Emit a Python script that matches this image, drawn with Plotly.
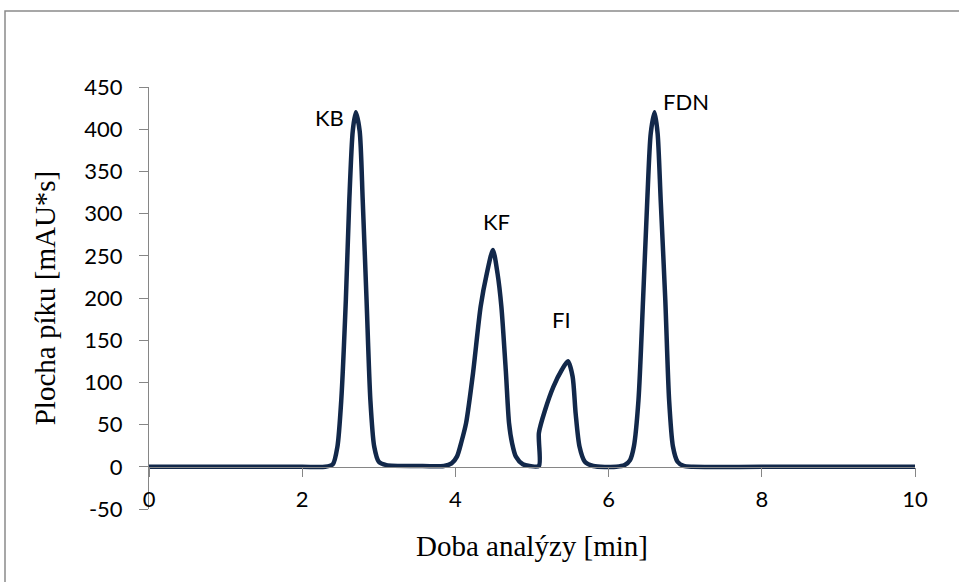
import plotly.graph_objects as go

# ---- data ----
time_min = [0, 1, 2, 2.30, 2.40, 2.46, 2.51, 2.57, 2.615, 2.66, 2.70, 2.75, 2.79, 2.84, 2.89, 2.94, 3.00, 3.10,
            3.5, 3.85, 3.95, 4.02, 4.08, 4.14, 4.23, 4.33, 4.41, 4.49, 4.55, 4.60, 4.66, 4.70, 4.74, 4.79, 4.88, 4.97,
            5.09, 5.09, 5.17, 5.28, 5.39, 5.47, 5.53, 5.57, 5.62, 5.69, 5.80,
            6.10, 6.21, 6.28, 6.33, 6.39, 6.45, 6.505, 6.55, 6.60, 6.64, 6.68, 6.74, 6.79, 6.84, 6.90, 6.98, 7.1, 8, 10]
signal = [0, 0, 0, 0, 3, 24, 79, 198, 316, 398, 420, 398, 316, 198, 79, 24, 6, 2,
          1, 1, 4, 12, 30, 52, 111, 190, 229, 257, 229, 190, 111, 52, 28, 12, 3, 1,
          1, 40, 67, 95, 115, 125, 107, 63, 24, 6, 1,
          0, 2, 8, 24, 79, 198, 316, 395, 420, 395, 316, 198, 79, 24, 6, 1, 0, 0, 0]

peak_labels = ["KB", "KF", "FI", "FDN"]
label_x = [2.35, 4.54, 5.39, 7.01]
label_y = [414, 291, 175, 433]

x_ticks = [0, 2, 4, 6, 8, 10]
y_ticks = [-50, 0, 50, 100, 150, 200, 250, 300, 350, 400, 450]

x_title = "Doba analýzy [min]"
y_title = "Plocha píku [mAU*s]"

# ---- layout geometry ----
W, H = 959, 582
L, R, T, B = 149, 44, 87, 73
pw, ph = W - L - R, H - T - B
AXIS_COL = "#868686"
LINE_COL = "#12284a"
TICK_FONT = dict(family="Lato, Calibri, sans-serif", size=22, color="#000000")
SERIF = dict(family="Liberation Serif, Times New Roman, serif", size=29, color="#000000")

fig = go.Figure()
fig.add_trace(go.Scatter(
    x=time_min, y=signal, mode="lines",
    line=dict(color=LINE_COL, width=4.5, shape="spline", smoothing=0.7),
    hoverinfo="skip", showlegend=False, cliponaxis=False,
))

for t, xx, yy in zip(peak_labels, label_x, label_y):
    fig.add_annotation(x=xx, y=yy, text=t, showarrow=False, font=TICK_FONT,
                       xanchor="center", yanchor="middle")

y_min, y_max = -50, 450
zero_pos = (0 - y_min) / (y_max - y_min)

fig.update_layout(
    width=W, height=H,
    margin=dict(l=L, r=R, t=T, b=B, pad=0),
    paper_bgcolor="white", plot_bgcolor="white",
    xaxis=dict(
        range=[0, 10], tickvals=x_ticks, ticktext=[str(v) for v in x_ticks],
        anchor="free", position=zero_pos,
        showline=True, linecolor=AXIS_COL, linewidth=1,
        ticks="outside", ticklen=9, tickcolor=AXIS_COL, tickwidth=1,
        ticklabelstandoff=4,
        showgrid=False, zeroline=False, tickfont=TICK_FONT,
        title=dict(text=x_title, font=SERIF, standoff=24),
    ),
    yaxis=dict(
        range=[y_min, y_max], tickvals=y_ticks, ticktext=[str(v) for v in y_ticks],
        showline=True, linecolor=AXIS_COL, linewidth=1,
        ticks="outside", ticklen=9, tickcolor=AXIS_COL, tickwidth=1,
        ticklabelstandoff=12,
        showgrid=False, zeroline=False, tickfont=TICK_FONT,
        title=dict(text=y_title, font=SERIF, standoff=20),
    ),
)

# outer chart-area border (left and top visible, others beyond the page)
fig.add_shape(type="rect", xref="paper", yref="paper",
              x0=(5 - L) / pw, x1=(W + 10 - L) / pw,
              y0=(H - B - (H + 10)) / ph, y1=(H - B - 11) / ph,
              line=dict(color="#8a8a8a", width=1.5), fillcolor="rgba(0,0,0,0)", layer="below")

fig.write_html("out.html")
